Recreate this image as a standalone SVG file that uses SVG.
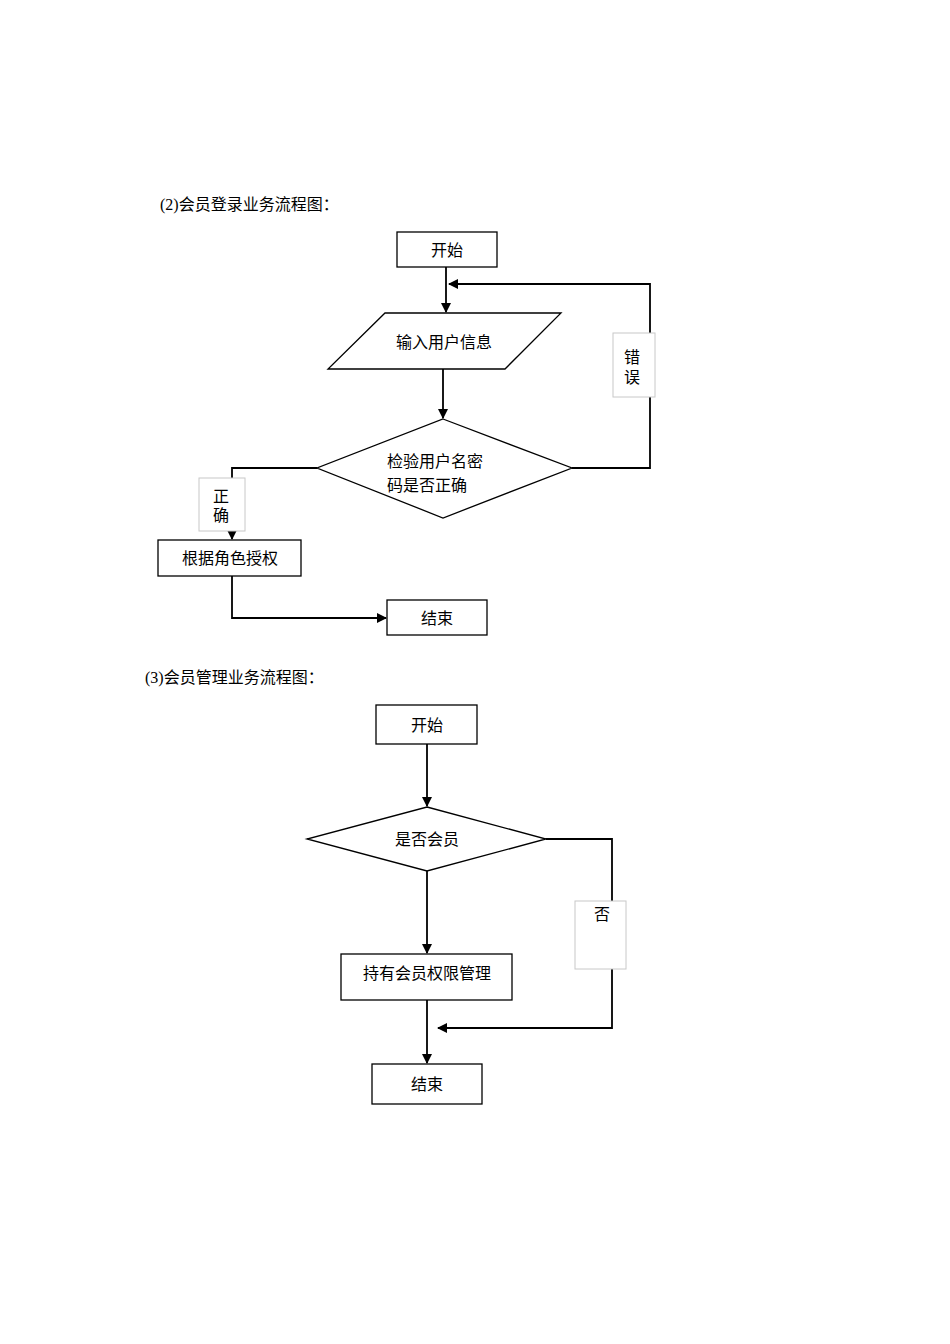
<svg xmlns="http://www.w3.org/2000/svg" width="950" height="1344" viewBox="0 0 950 1344">
<style>
text{font-family:"Liberation Serif","Noto Sans CJK SC",serif;font-size:16px;fill:#000}
.n{fill:#fff;stroke:#000;stroke-width:1.3}
.lb{fill:#fff;stroke:#c8c8c8;stroke-width:1}
.c{fill:none;stroke:#000;stroke-width:1.8}
.m{text-anchor:middle}
</style>
<defs><marker id="a" markerWidth="10" markerHeight="10" refX="9" refY="5" orient="auto" markerUnits="userSpaceOnUse"><path d="M0,0 L10,5 L0,10 z" fill="#000"/></marker></defs>
<rect width="950" height="1344" fill="#fff"/>
<text x="160" y="210">(2)会员登录业务流程图：</text>
<text x="145" y="683">(3)会员管理业务流程图：</text>
<g id="connectors">
<line class="c" x1="446" y1="267" x2="446" y2="312" marker-end="url(#a)"/>
<line class="c" x1="443" y1="369" x2="443" y2="418" marker-end="url(#a)"/>
<polyline class="c" points="572,468 650,468 650,284 449,284" marker-end="url(#a)"/>
<polyline class="c" points="317,468 232,468 232,539" marker-end="url(#a)"/>
<polyline class="c" points="232,576 232,618 386,618" marker-end="url(#a)"/>
<line class="c" x1="427" y1="744" x2="427" y2="806" marker-end="url(#a)"/>
<line class="c" x1="427" y1="871" x2="427" y2="953" marker-end="url(#a)"/>
<line class="c" x1="427" y1="1000" x2="427" y2="1063" marker-end="url(#a)"/>
<polyline class="c" points="546,839 612,839 612,1028 438,1028" marker-end="url(#a)"/>
</g>
<g id="lbl-err"><rect class="lb" x="613" y="333" width="42" height="64"/><text class="m" x="632" y="363">错</text><text class="m" x="632" y="383">误</text></g>
<g id="lbl-ok"><rect class="lb" x="199" y="478" width="46" height="53"/><text class="m" x="221" y="502">正</text><text class="m" x="221" y="521">确</text></g>
<g id="lbl-no"><rect class="lb" x="575" y="901" width="51" height="68"/><text class="m" x="602" y="920">否</text></g>
<g id="s1"><rect class="n" x="397" y="232" width="100" height="35"/><text class="m" x="447" y="256">开始</text></g>
<g id="in1"><polygon class="n" points="385,313 561,313 505,369 328,369"/><text class="m" x="444" y="348">输入用户信息</text></g>
<g id="d1"><polygon class="n" points="443,419 572,468 443,518 317,468"/><text x="387" y="467">检验用户名密</text><text x="387" y="491">码是否正确</text></g>
<g id="p1"><rect class="n" x="158" y="540" width="143" height="36"/><text class="m" x="230" y="564">根据角色授权</text></g>
<g id="e1"><rect class="n" x="387" y="600" width="100" height="35"/><text class="m" x="437" y="624">结束</text></g>
<g id="s2"><rect class="n" x="376" y="705" width="101" height="39"/><text class="m" x="427" y="731">开始</text></g>
<g id="d2"><polygon class="n" points="427,807 546,839 427,871 307,839"/><text class="m" x="427" y="845">是否会员</text></g>
<g id="p2"><rect class="n" x="341" y="954" width="171" height="46"/><text class="m" x="427" y="979">持有会员权限管理</text></g>
<g id="e2"><rect class="n" x="372" y="1064" width="110" height="40"/><text class="m" x="427" y="1090">结束</text></g>
</svg>
